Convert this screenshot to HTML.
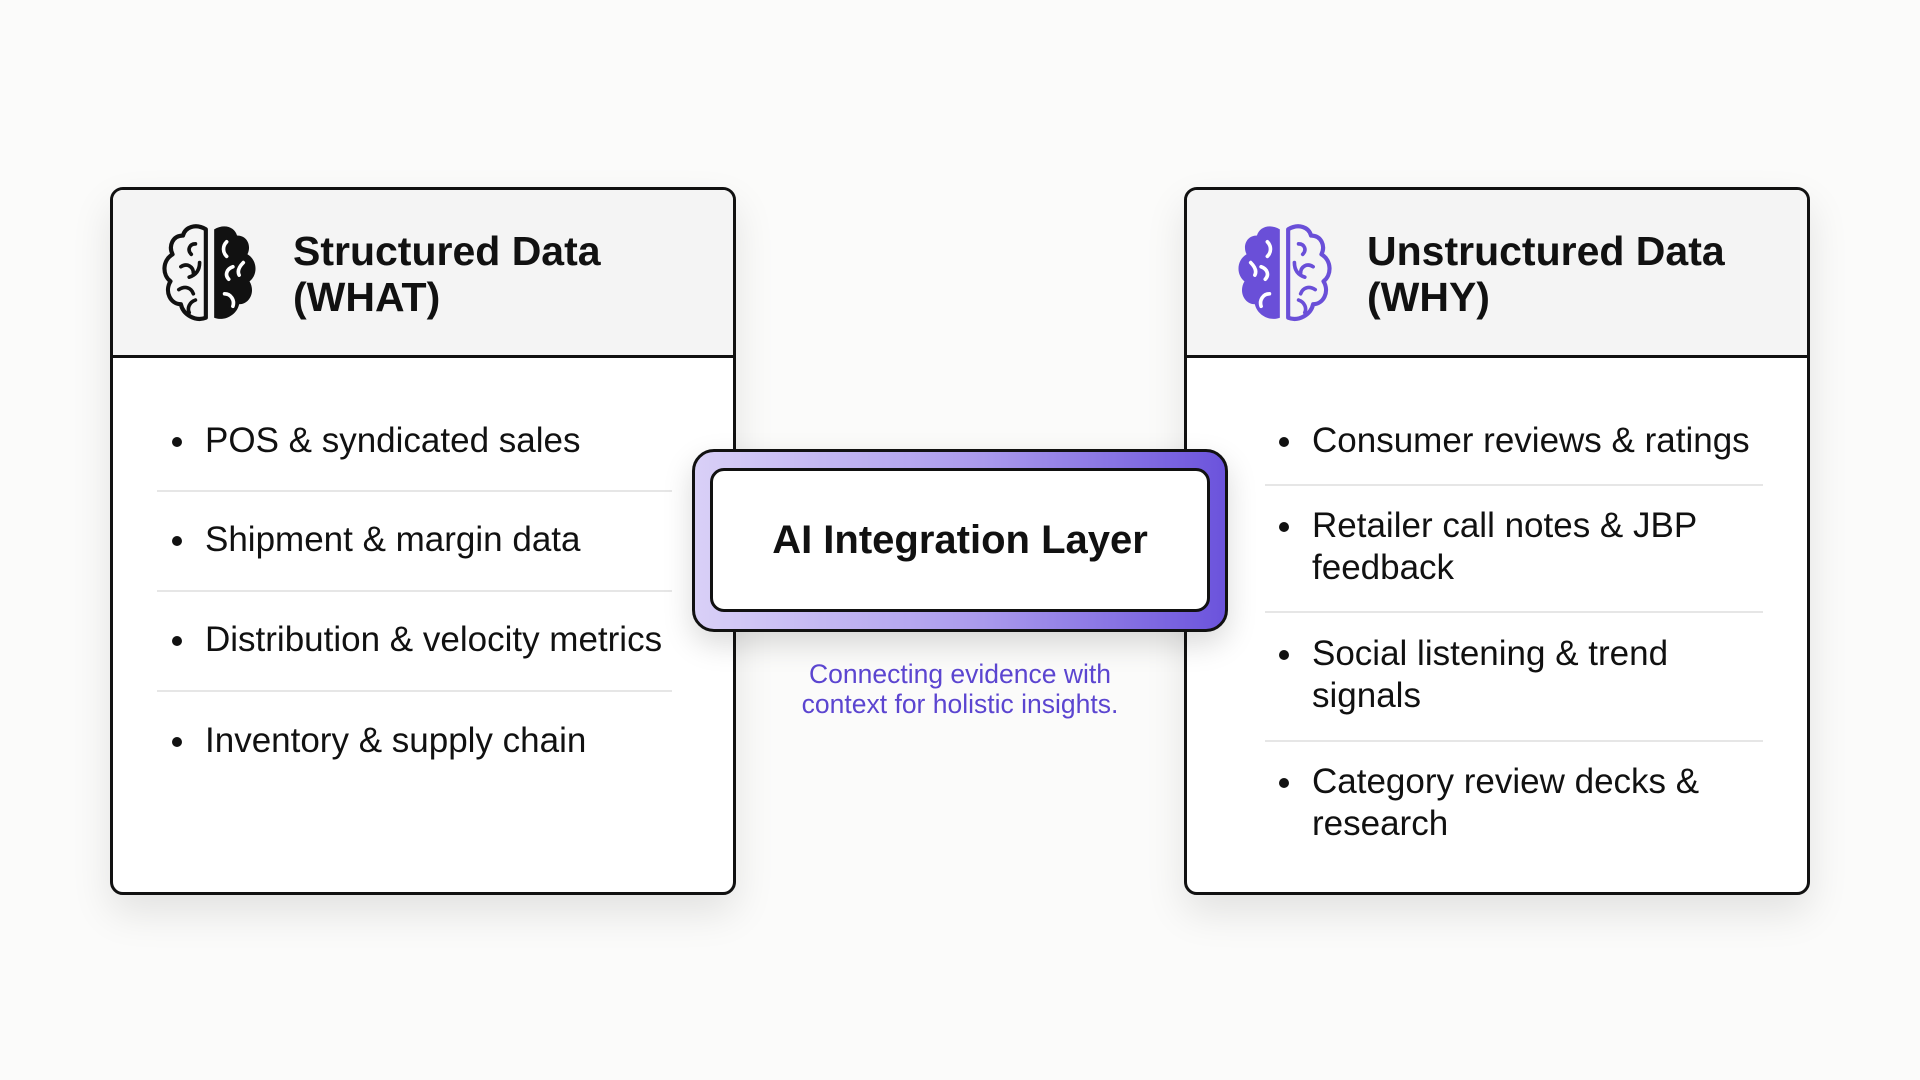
<!DOCTYPE html>
<html><head><meta charset="utf-8"><style>
body{margin:0;width:1920px;height:1080px;background:#fbfbfa;font-family:"Liberation Sans",sans-serif;position:relative;overflow:hidden}
.card{position:absolute;top:187px;width:620px;height:702px;border:3px solid #111;border-radius:13px;background:#fff;box-shadow:0 18px 40px rgba(0,0,0,0.10);overflow:hidden}
.head{position:absolute;left:0;top:0;right:0;height:165px;background:#f4f4f4;border-bottom:3px solid #111}
.title{position:absolute;left:180px;top:38px;font-weight:bold;font-size:41px;line-height:46px;color:#111}
.icon{position:absolute;left:44px;top:31px;width:106px;height:104px}
.item{position:absolute;font-size:35px;line-height:42px;color:#111;white-space:nowrap}
.item:before{content:"";position:absolute;left:-33px;top:17px;width:10px;height:10px;border-radius:50%;background:#111}
.sep{position:absolute;height:2px;background:#e6e6e6}
</style></head><body>

<div class="card" style="left:110px">
 <div class="head">
  <svg class="icon" viewBox="0 0 100 100">
   <path d="M46,8 C36,2 26,6 24,14 C14,14 10,24 14,32 C4,38 4,52 12,58 C6,68 12,80 22,80 C24,90 36,97 46,93 Z" fill="none" stroke="#111" stroke-width="4" stroke-linejoin="round"/>
   <path d="M36,22 C30,22 28,28 32,32 M22,44 C28,40 34,44 34,50 M40,40 C40,48 36,52 30,54 M20,66 C26,62 32,64 34,70 M36,76 C30,78 28,84 30,88" fill="none" stroke="#111" stroke-width="3.5" stroke-linecap="round"/>
   <path d="M54,8 C64,2 74,6 76,14 C86,14 90,24 86,32 C96,38 96,52 88,58 C94,68 88,80 78,80 C76,90 64,97 54,93 Z" fill="#111"/>
   <path d="M66,20 C62,24 62,30 66,34 M72,44 C66,46 64,52 68,56 M82,40 C78,44 76,48 78,52 M64,70 C70,70 74,76 72,82" fill="none" stroke="#fff" stroke-width="3.5" stroke-linecap="round"/>
  </svg>
  <div class="title">Structured Data<br>(WHAT)</div>
 </div>
 <div class="item" style="left:92px;top:230px">POS &amp; syndicated sales</div>
 <div class="sep" style="left:44px;width:515px;top:300px"></div>
 <div class="item" style="left:92px;top:329px">Shipment &amp; margin data</div>
 <div class="sep" style="left:44px;width:515px;top:400px"></div>
 <div class="item" style="left:92px;top:429px">Distribution &amp; velocity metrics</div>
 <div class="sep" style="left:44px;width:515px;top:500px"></div>
 <div class="item" style="left:92px;top:530px">Inventory &amp; supply chain</div>
</div>

<div class="card" style="left:1184px">
 <div class="head">
  <svg class="icon" viewBox="0 0 100 100">
   <path d="M46,8 C36,2 26,6 24,14 C14,14 10,24 14,32 C4,38 4,52 12,58 C6,68 12,80 22,80 C24,90 36,97 46,93 Z" fill="#6a4fd8"/>
   <path d="M34,20 C38,24 38,30 34,34 M28,44 C34,46 36,52 32,56 M18,40 C22,44 24,48 22,52 M36,70 C30,70 26,76 28,82" fill="none" stroke="#fff" stroke-width="3.5" stroke-linecap="round"/>
   <path d="M54,8 C64,2 74,6 76,14 C86,14 90,24 86,32 C96,38 96,52 88,58 C94,68 88,80 78,80 C76,90 64,97 54,93 Z" fill="none" stroke="#6a4fd8" stroke-width="4" stroke-linejoin="round"/>
   <path d="M64,22 C70,22 72,28 68,32 M78,44 C72,40 66,44 66,50 M60,40 C60,48 64,52 70,54 M80,66 C74,62 68,64 66,70 M64,76 C70,78 72,84 70,88" fill="none" stroke="#6a4fd8" stroke-width="3.5" stroke-linecap="round"/>
  </svg>
  <div class="title">Unstructured Data<br>(WHY)</div>
 </div>
 <div class="item" style="left:125px;top:230px">Consumer reviews &amp; ratings</div>
 <div class="sep" style="left:78px;width:498px;top:294px"></div>
 <div class="item" style="left:125px;top:315px">Retailer call notes &amp; JBP<br>feedback</div>
 <div class="sep" style="left:78px;width:498px;top:421px"></div>
 <div class="item" style="left:125px;top:443px">Social listening &amp; trend<br>signals</div>
 <div class="sep" style="left:78px;width:498px;top:550px"></div>
 <div class="item" style="left:125px;top:571px">Category review decks &amp;<br>research</div>
</div>

<div style="position:absolute;left:692px;top:449px;width:530px;height:177px;border:3px solid #111;border-radius:22px;background:linear-gradient(90deg,#d9d0f7,#a999ec 55%,#6b53dc);box-shadow:0 12px 30px rgba(0,0,0,0.15)"></div>
<div style="position:absolute;left:710px;top:468px;width:494px;height:138px;border:3px solid #111;border-radius:14px;background:#fff;text-align:center;line-height:138px;font-weight:bold;font-size:40px;color:#111">AI Integration Layer</div>
<div style="position:absolute;left:660px;width:600px;top:659px;text-align:center;font-size:26.5px;line-height:30px;color:#5b45d0">Connecting evidence with<br>context for holistic insights.</div>
</body></html>
